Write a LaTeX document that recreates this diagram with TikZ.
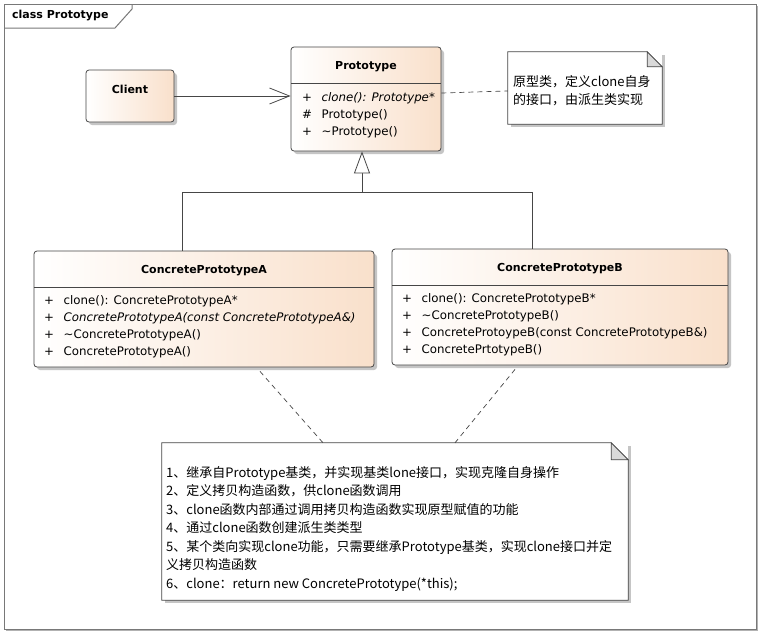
\documentclass[tikz,border=0pt]{standalone}
\usepackage{fontspec}
\setmainfont{DejaVu Sans}
\newfontfamily\cjk{Noto Sans CJK SC}
\usetikzlibrary{arrows.meta,shadows}

\definecolor{peach}{RGB}{249,224,203}
\definecolor{umlline}{RGB}{70,70,70}
\definecolor{framegray}{RGB}{120,120,120}

\begin{document}
\begin{tikzpicture}[x=1pt, y=-1pt,
    classbox/.style={draw=umlline, line width=0.8pt, rounded corners=3pt, left color=white, right color=peach,
      inner sep=0pt, drop shadow={shadow xshift=3pt, shadow yshift=-3pt, fill=black!45}},
    notebox/.style={fill=white, inner sep=0pt, drop shadow={shadow xshift=3pt, shadow yshift=-3pt, fill=black!45}},
    classname/.style={inner sep=0pt, font=\bfseries\fontsize{11}{13}\selectfont},
    members/.style={anchor=north west, align=left, inner sep=0pt, font=\fontsize{11.8}{17}\selectfont},
    notetext/.style={anchor=north west, align=left, inner sep=0pt, font=\cjk\fontsize{13}{18.5}\selectfont},
    dashline/.style={draw=umlline, line width=0.7pt, dash pattern=on 5pt off 4pt},
  ]
  \newcommand{\vis}[1]{\makebox[19.5pt][l]{#1}}
  \useasboundingbox (0,0) rectangle (763,635);

  % diagram frame
  \draw[framegray, line width=1pt, fill=white, drop shadow={shadow xshift=2pt, shadow yshift=-2pt, fill=black!60}] (4,4) rectangle (756,629);
  \draw[framegray, line width=1pt] (4,28) -- (115,28) -- (132,9) -- (132,4);
  \node[classname, anchor=west] (frametitle) at (12,16) {class Prototype};

  % classes
  \node[classbox, minimum width=88, minimum height=52] (client) at (130,96) {};
  \node[classname] (clientname) at (130,89) {Client};

  \node[classbox, minimum width=150, minimum height=104] (proto) at (366,99) {};
  \node[classname] (protoname) at (366,67) {Prototype};
  \draw[umlline, line width=0.8pt] (291,83) -- (441,83);
  \node[members] (protoops) at (302,92.5) {\vis{+}\textit{clone(): Prototype*}\\
    \vis{\#}Prototype()\\
    \vis{+}\textasciitilde Prototype()};

  \node[classbox, minimum width=340, minimum height=116] (concA) at (204,309) {};
  \node[classname] (concAname) at (204,271) {ConcretePrototypeA};
  \draw[umlline, line width=0.8pt] (34,287) -- (374,287);
  \node[members] (concAops) at (44,295.5) {\vis{+}clone(): ConcretePrototypeA*\\
    \vis{+}\textit{ConcretePrototypeA(const ConcretePrototypeA\&)}\\
    \vis{+}\textasciitilde ConcretePrototypeA()\\
    \vis{+}ConcretePrototypeA()};

  \node[classbox, minimum width=336, minimum height=116] (concB) at (560,307) {};
  \node[classname] (concBname) at (560,269) {ConcretePrototypeB};
  \draw[umlline, line width=0.8pt] (392,285) -- (728,285);
  \node[members] (concBops) at (402,293.5) {\vis{+}clone(): ConcretePrototypeB*\\
    \vis{+}\textasciitilde ConcretePrototypeB()\\
    \vis{+}ConcreteProtoypeB(const ConcretePrototypeB\&)\\
    \vis{+}ConcretePrtotypeB()};

  % notes
  \node[notebox, minimum width=154, minimum height=72] (note1) at (585,88) {};
  \draw[umlline, line width=0.8pt] (note1.north west) -- ([xshift=-15pt]note1.north east) -- ([yshift=-15pt]note1.north east)
    -- (note1.south east) -- (note1.south west) -- cycle;
  \filldraw[draw=umlline, fill=black!15, line width=0.8pt] ([xshift=-15pt]note1.north east) -- ([xshift=-15pt,yshift=-15pt]note1.north east) -- ([yshift=-15pt]note1.north east) -- cycle;
  \node[notetext] (note1text) at (513,75) {原型类，定义clone自身\\的接口，由派生类实现};

  \node[notebox, minimum width=466, minimum height=157] (note2) at (395,521.5) {};
  \draw[umlline, line width=0.8pt] (note2.north west) -- ([xshift=-17pt]note2.north east) -- ([yshift=-17pt]note2.north east)
    -- (note2.south east) -- (note2.south west) -- cycle;
  \filldraw[draw=umlline, fill=black!15, line width=0.8pt] ([xshift=-17pt]note2.north east) -- ([xshift=-17pt,yshift=-17pt]note2.north east) -- ([yshift=-17pt]note2.north east) -- cycle;
  \node[notetext] (note2text) at (166,466) {1、继承自Prototype基类，并实现基类lone接口，实现克隆自身操作\\
    2、定义拷贝构造函数，供clone函数调用\\
    3、clone函数内部通过调用拷贝构造函数实现原型赋值的功能\\
    4、通过clone函数创建派生类类型\\
    5、某个类向实现clone功能，只需要继承Prototype基类，实现clone接口并定\\
    义拷贝构造函数\\
    6、clone：return new ConcretePrototype(*this);};

  % connectors
  \draw[umlline, line width=0.8pt, -{Straight Barb[length=20pt, width=16pt]}] (client.east) -- (client.east -| proto.west);
  \coordinate (joint) at (362,192);
  \draw[umlline, line width=0.8pt, -{Triangle[length=22pt, width=16pt, fill=white]}] ([xshift=-22pt]concA.north) |- (joint) -- ([xshift=-4pt]proto.south);
  \draw[umlline, line width=0.8pt] ([xshift=-28pt]concB.north) |- (joint);
  \draw[dashline] ([yshift=6pt]proto.east) -- ([yshift=-3pt]note1.west);
  \draw[dashline] ([xshift=56pt,yshift=-4pt]concA.south) -- ([xshift=-72pt]note2.north);
  \draw[dashline] ([xshift=-45pt,yshift=-4pt]concB.south) -- ([xshift=60pt]note2.north);
\end{tikzpicture}
\end{document}
